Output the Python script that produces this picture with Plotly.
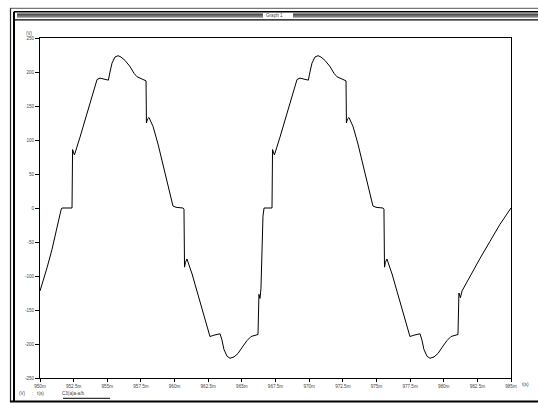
import plotly.graph_objects as go

# Simulated node voltage, time in ms, voltage in V
time_ms = [
    950.00, 950.22, 950.52, 950.89, 951.19, 951.41, 951.56, 951.63, 952.38,
    952.42, 952.49, 952.56, 952.97, 953.42, 953.86, 954.24, 954.46, 954.90,
    955.08, 955.20, 955.35, 955.57, 955.80, 956.02, 956.32, 956.69, 956.99,
    957.21, 957.43, 957.88, 957.91, 957.99, 958.10, 958.40, 958.77, 959.14,
    959.51, 959.88, 960.11, 960.48, 960.63, 960.70, 960.74, 960.81, 960.92,
    961.30, 961.74, 962.19, 962.63, 962.93, 963.38, 963.52, 963.67, 963.90,
    964.12, 964.42, 964.71, 965.09, 965.38, 965.68, 966.20, 966.27, 966.35,
    966.42, 966.50, 966.57, 966.65, 967.24,
    967.28, 967.35, 967.42, 967.83, 968.28, 968.72, 969.10, 969.32, 969.76,
    969.94, 970.06, 970.21, 970.43, 970.66, 970.88, 971.18, 971.55, 971.85,
    972.07, 972.29, 972.74, 972.77, 972.85, 972.96, 973.26, 973.63, 974.00,
    974.37, 974.74, 974.97, 975.34, 975.49, 975.56, 975.60, 975.67, 975.78,
    976.16, 976.60, 977.05, 977.49, 977.79, 978.24, 978.38, 978.53, 978.76,
    978.98, 979.28, 979.57, 979.95, 980.24, 980.54, 981.06, 981.13, 981.24,
    981.36, 981.95, 982.70, 983.44, 984.18, 985.00,
]
voltage = [
    -122, -109, -88, -61, -35, -13, -3, 0, 0,
    86, 83, 78, 104, 135, 164, 189, 191, 189,
    188, 200, 213, 222, 224, 222, 217, 208, 198,
    193, 191, 187, 125, 131, 133, 120, 94, 64,
    36, 3, 1, 0, 0, -2, -87, -80, -75,
    -97, -127, -158, -189, -187, -185, -194, -208, -218,
    -221, -219, -214, -203, -195, -189, -186, -127, -133,
    -118, -70, -12, 0, 0,
    86, 83, 78, 104, 135, 164, 189, 191, 189,
    188, 200, 213, 222, 224, 222, 217, 208, 198,
    193, 191, 187, 125, 131, 133, 120, 94, 64,
    36, 3, 1, 0, 0, -2, -87, -80, -75,
    -97, -127, -158, -189, -187, -185, -194, -208, -218,
    -221, -219, -214, -203, -195, -189, -186, -125, -132,
    -122, -100, -74, -49, -24, 0,
]

x_tick_vals = [950, 952.5, 955, 957.5, 960, 962.5, 965, 967.5, 970,
               972.5, 975, 977.5, 980, 982.5, 985]
x_tick_text = ["950m", "952.5m", "955m", "957.5m", "960m", "962.5m", "965m",
               "967.5m", "970m", "972.5m", "975m", "977.5m", "980m",
               "982.5m", "985m"]
y_tick_vals = [250, 200, 150, 100, 50, 0, -50, -100, -150, -200, -250]
y_tick_text = ["250", "200", "150", "100", "50", "0", "-50", "-100",
               "-150", "-200", "-250"]

W, H = 538, 403
L, R, T, B = 40, 511, 38, 378
FONT = "Liberation Sans, Arial, sans-serif"


def px(x):
    return (x - L) / (R - L)


def py(y):
    return (B - y) / (B - T)


fig = go.Figure()
fig.add_trace(go.Scatter(
    x=time_ms, y=voltage, mode="lines",
    line=dict(color="black", width=1),
    hoverinfo="skip", showlegend=False,
))

shapes = []


def line(x0, y0, x1, y1, color="black", width=1):
    shapes.append(dict(type="line", xref="paper", yref="paper",
                       x0=px(x0), y0=py(y0), x1=px(x1), y1=py(y1),
                       line=dict(color=color, width=width)))


def rect(x0, y0, x1, y1, color):
    shapes.append(dict(type="rect", xref="paper", yref="paper",
                       x0=px(x0), y0=py(y0), x1=px(x1), y1=py(y1),
                       line=dict(width=0), fillcolor=color))


# window frame
line(10, 8.3, 540, 8.3, "#555", 1)
line(10.5, 8.3, 10.5, 402, "#222", 1.2)
line(14, 11.8, 14, 402, "black", 2)
line(14, 11.8, 540, 11.8, "black", 1.5)
line(10, 401.5, 540, 401.5, "black", 2)
# title bar
rect(17, 13.5, 263, 17.5, "#6a6a6a")
rect(293, 13.5, 540, 17.5, "#6a6a6a")
line(17, 14.2, 263, 14.2, "#333", 0.8)
line(293, 14.2, 540, 14.2, "#333", 0.8)
line(17, 16.8, 263, 16.8, "#999", 0.6)
line(293, 16.8, 540, 16.8, "#999", 0.6)
line(14, 19.8, 540, 19.8, "black", 1.2)
# legend underline
line(63, 398.3, 110, 398.3, "black", 1)

small = dict(family=FONT, size=4.6, color="#444")
annotations = [
    dict(text="Graph 1", x=px(274.5), y=py(15.8)),
    dict(text="(V)", x=px(29), y=py(33)),
    dict(text="t(s)", x=px(525), y=py(384)),
    dict(text="(V)", x=px(22), y=py(393)),
    dict(text=":   t(s)", x=px(38), y=py(393)),
    dict(text="C3(a)a-a/b", x=px(73), y=py(393)),
]
for a in annotations:
    a.update(xref="paper", yref="paper", showarrow=False, font=small,
             xanchor="center", yanchor="middle")

fig.update_layout(
    width=W, height=H,
    margin=dict(l=L, r=W - R, t=T, b=H - B, pad=0),
    paper_bgcolor="white", plot_bgcolor="white",
    shapes=shapes, annotations=annotations,
    font=small,
)
fig.update_xaxes(
    range=[950, 985], tickvals=x_tick_vals, ticktext=x_tick_text,
    showgrid=False, zeroline=False, showline=True, mirror=True,
    linecolor="black", linewidth=1, ticks="outside", ticklen=3,
    tickcolor="black", tickfont=small,
)
fig.update_yaxes(
    range=[-250, 250], tickvals=y_tick_vals, ticktext=y_tick_text,
    showgrid=False, zeroline=False, showline=True, mirror=True,
    linecolor="black", linewidth=1, ticks="outside", ticklen=4,
    tickcolor="black", tickfont=small,
)

fig.write_html("out.html")
